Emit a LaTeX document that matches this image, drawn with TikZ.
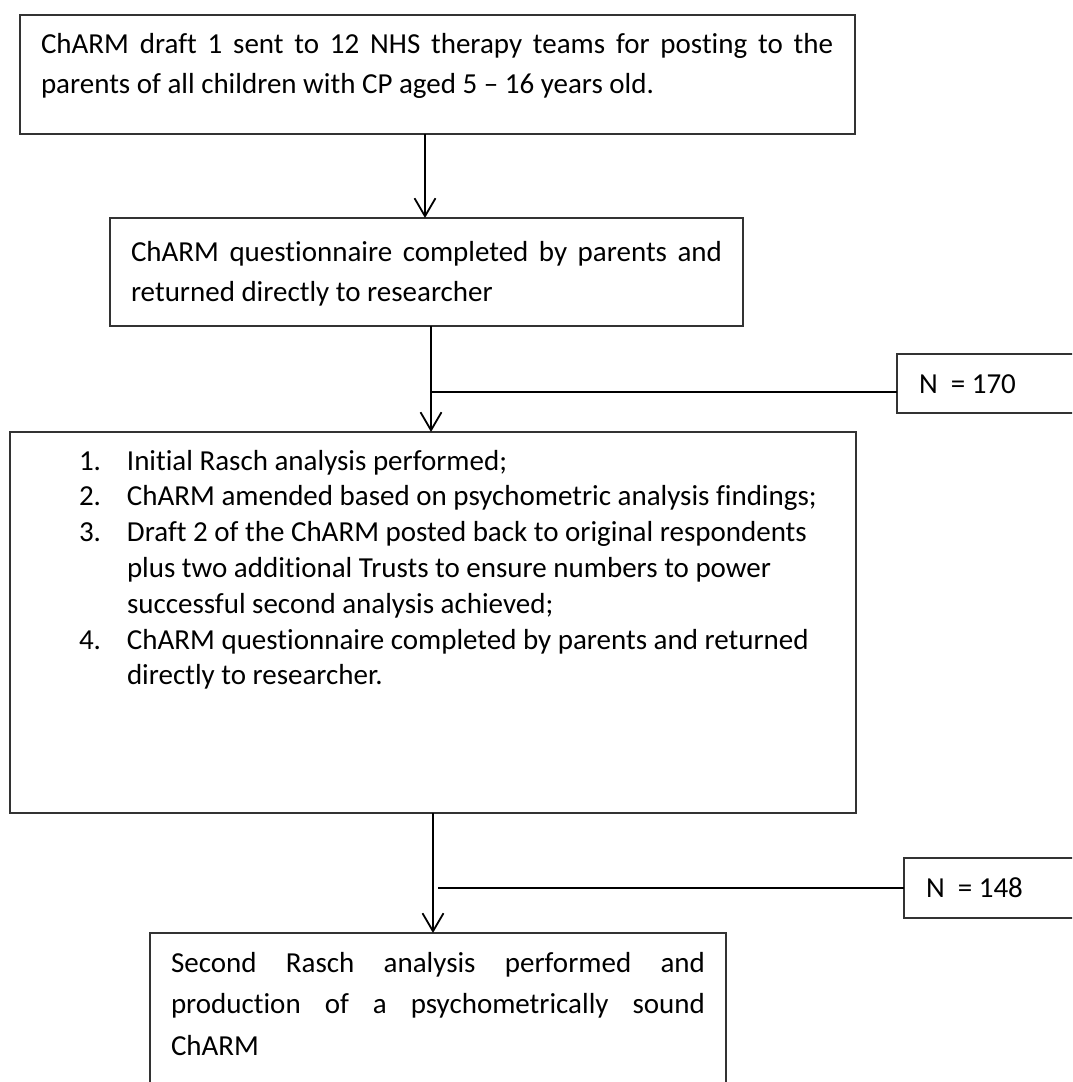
\documentclass[tikz,border=0pt]{standalone}
\usepackage{fontspec}
\setmainfont{Carlito}[Ligatures={TeX,NoCommon}]
\usetikzlibrary{arrows.meta}
% one line set flush to both margins
\newcommand\jline[2]{\leavevmode\hbox to #1{\spaceskip=0.226em plus 1fil\relax #2}}
\newcommand\wordgap{\spaceskip=0.226em plus 0.1em minus 0.05em\relax}
\begin{document}
\begin{tikzpicture}[x=1pt,y=-1pt,
  frame/.style={draw=black!80, line width=1.3pt, inner sep=0pt, outer sep=0pt, anchor=north west},
  txt/.style={anchor=base west, inner sep=0pt, outer sep=0pt, align=left, execute at begin node=\wordgap},
  big/.style={font=\fontsize{29}{40.7}\selectfont},
  listfont/.style={font=\fontsize{29}{35.8}\selectfont},
  flow/.style={draw=black, line width=1.8pt, -{Straight Barb[length=18pt,width=21pt,line width=1.8pt]}},
  tie/.style={draw=black, line width=1.6pt}]
\clip (0,0) rectangle (1072,1082);
\fill[white] (0,0) rectangle (1072,1082);

% boxes of the flow
\node[frame, minimum width=835pt, minimum height=119pt] (b1) at (20,15) {};
\node[frame, minimum width=633pt, minimum height=108pt] (b2) at (110,218) {};
\node[frame, minimum width=846pt, minimum height=381pt] (b3) at (10,432) {};
\node[frame, minimum width=576pt, minimum height=200pt] (b4) at (150,933) {};
% sample sizes
\node[frame, minimum width=200pt, minimum height=59pt] (n1) at (897,354) {};
\node[frame, minimum width=200pt, minimum height=60pt] (n2) at (904,858) {};

% texts
\node[txt, big, text width=792pt] (t1) at (41,53) {%
\jline{792pt}{ChARM draft 1 sent to 12 NHS therapy teams for posting to the}\\
parents of all children with CP aged 5 -- 16 years old.};
\node[txt, big, text width=591pt] (t2) at (131,261) {%
\jline{591pt}{ChARM questionnaire completed by parents and}\\
returned directly to researcher};
\node[txt, listfont, text width=760pt] (t3) at (79,470) {%
\makebox[48pt][l]{1.}Initial Rasch analysis performed;\\
\makebox[48pt][l]{2.}ChARM amended based on psychometric analysis findings;\\
\makebox[48pt][l]{3.}Draft 2 of the ChARM posted back to original respondents\\
\hspace*{48pt}plus two additional Trusts to ensure numbers to power\\
\hspace*{48pt}successful second analysis achieved;\\
\makebox[48pt][l]{4.}ChARM questionnaire completed by parents and returned\\
\hspace*{48pt}directly to researcher.};
\node[txt, font=\fontsize{29}{41.5}\selectfont, text width=534pt] (t4) at (171,972) {%
\jline{534pt}{Second Rasch analysis performed and}\\
\jline{534pt}{production of a psychometrically sound}\\
ChARM};
\node[txt, big] (tn1) at (919,393) {N\ \ = 170};
\node[txt, big] (tn2) at (926,897) {N\ \ = 148};

% connectors
\coordinate (x1) at (425,0);
\coordinate (x2) at (431,0);
\coordinate (x3) at (433,0);
\draw[flow] (x1 |- b1.south) -- (x1 |- b2.north);
\draw[flow] (x2 |- b2.south) -- (x2 |- b3.north);
\draw[flow] (x3 |- b3.south) -- (x3 |- b4.north);
\draw[tie] ([yshift=-8.5pt]n1.west -| x2) -- ([yshift=-8.5pt]n1.west);
\draw[tie] ([xshift=5pt]n2.west -| x3) -- (n2.west);
\end{tikzpicture}
\end{document}
